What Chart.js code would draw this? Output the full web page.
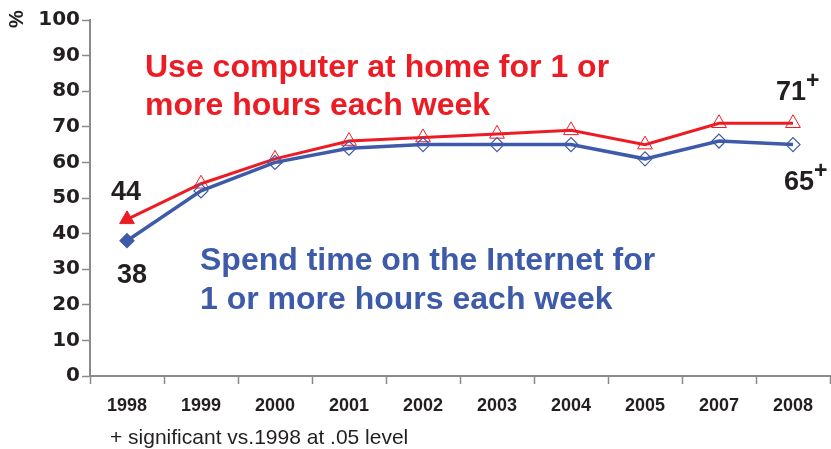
<!DOCTYPE html>
<html>
<head>
<meta charset="utf-8">
<script src="https://cdn.jsdelivr.net/npm/chart.js@4.4.1/dist/chart.umd.min.js"></script>
<style>
html,body{margin:0;padding:0;background:#fff;}
#wrap{width:831px;height:449px;position:relative;}
</style>
</head>
<body>
<div id="wrap"><canvas id="c" width="831" height="449"></canvas></div>
<script>
const years = ['1998','1999','2000','2001','2002','2003','2004','2005','2007','2008'];
const computerHome = [44, 54, 61, 66, 67, 68, 69, 65, 71, 71];
const internetTime = [38, 52, 60, 64, 65, 65, 65, 61, 66, 65];
const yTicks = [0,10,20,30,40,50,60,70,80,90,100];
const redLabel = ['Use computer at home for 1 or', 'more hours each week'];
const blueLabel = ['Spend time on the Internet for', '1 or more hours each week'];
const footnote = '+ significant vs.1998 at .05 level';

const RED = '#ED1C24';
const BLUE = '#3E5BA9';
const INK = '#231F20';

const annot = {
  id: 'annot',
  afterDatasetsDraw(chart) {
    const ctx = chart.ctx;
    const x = chart.scales.x, y = chart.scales.y;
    const ca = chart.chartArea;
    ctx.save();
    // % title
    ctx.save();
    ctx.translate(23, 19);
    ctx.rotate(-Math.PI/2);
    ctx.fillStyle = INK;
    ctx.font = 'bold 20px "Liberation Sans", Arial, sans-serif';
    ctx.textAlign = 'center';
    ctx.textBaseline = 'alphabetic';
    ctx.fillText('%', 0, 0);
    ctx.restore();

    // series labels
    ctx.font = 'bold 32px "Liberation Sans", Arial, sans-serif';
    ctx.textAlign = 'left';
    ctx.textBaseline = 'alphabetic';
    ctx.fillStyle = RED;
    ctx.fillText(redLabel[0], ca.left + 55, ca.top + 57);
    ctx.fillText(redLabel[1], ca.left + 55, ca.top + 95);
    ctx.fillStyle = BLUE;
    ctx.fillText(blueLabel[0], ca.left + 110, ca.top + 250);
    ctx.fillText(blueLabel[1], ca.left + 110, ca.top + 289);

    // value labels
    ctx.fillStyle = INK;
    ctx.font = 'bold 27px "Liberation Sans", Arial, sans-serif';
    ctx.textAlign = 'center';
    const n = years.length - 1;
    const px0 = x.getPixelForValue(0);
    const pxN = x.getPixelForValue(n);
    ctx.fillText(String(computerHome[0]), px0 - 1, y.getPixelForValue(computerHome[0]) - 19);
    ctx.fillText(String(internetTime[0]), px0 + 5, y.getPixelForValue(internetTime[0]) + 42);
    const t71 = String(computerHome[n]);
    const t65 = String(internetTime[n]);
    const b71 = y.getPixelForValue(computerHome[n]) - 23;
    const b65 = y.getPixelForValue(internetTime[n]) + 45;
    const c71 = pxN - 2, c65 = pxN + 6;
    ctx.fillText(t71, c71, b71);
    ctx.fillText(t65, c65, b65);
    const w71 = ctx.measureText(t71).width, w65 = ctx.measureText(t65).width;
    ctx.font = 'bold 23px "Liberation Sans", Arial, sans-serif';
    ctx.textAlign = 'left';
    ctx.fillText('+', c71 + w71/2, b71 - 12);
    ctx.fillText('+', c65 + w65/2, b65 - 12);

    // footnote
    ctx.font = '21px "Liberation Sans", Arial, sans-serif';
    ctx.fillStyle = INK;
    ctx.textAlign = 'left';
    ctx.fillText(footnote, 110, 444);
    ctx.restore();
  }
};

new Chart(document.getElementById('c'), {
  type: 'line',
  data: {
    labels: years,
    datasets: [
      {
        label: 'Use computer at home',
        data: computerHome,
        borderColor: RED,
        borderWidth: 3,
        pointStyle: 'triangle',
        pointRadius: 8.5,
        pointBorderWidth: 1,
        pointBorderColor: RED,
        pointBackgroundColor: computerHome.map((v,i) => i === 0 ? RED : 'rgba(0,0,0,0)'),
        tension: 0,
        order: 2
      },
      {
        label: 'Spend time on the Internet',
        data: internetTime,
        borderColor: BLUE,
        borderWidth: 3.5,
        pointStyle: 'rectRot',
        pointRadius: 7,
        pointBorderWidth: 1.2,
        pointBorderColor: BLUE,
        pointBackgroundColor: internetTime.map((v,i) => i === 0 ? BLUE : 'rgba(0,0,0,0)'),
        tension: 0,
        order: 1
      }
    ]
  },
  options: {
    responsive: false,
    animation: false,
    devicePixelRatio: 1,
    layout: { autoPadding: false, padding: { left: 0, right: 1, top: 20, bottom: 33 } },
    plugins: { legend: { display: false }, tooltip: { enabled: false } },
    scales: {
      x: {
        offset: true,
        grid: { offset: true, drawOnChartArea: false, tickLength: 8, color: '#8a8a8a', tickWidth: 1.5 },
        border: { color: '#8a8a8a', width: 2 },
        ticks: {
          color: INK,
          padding: 11,
          maxRotation: 0,
          autoSkip: false,
          font: { family: '"Liberation Sans", Arial, sans-serif', weight: 'bold', size: 18 }
        },
        afterFit(s) { s.height = 40; s.paddingLeft = 0; s.paddingRight = 0; }
      },
      y: {
        min: 0, max: 100,
        afterBuildTicks(s) { s.ticks = yTicks.map(v => ({ value: v })); },
        grid: { drawOnChartArea: false, tickLength: 8, color: '#8a8a8a', tickWidth: 1.5 },
        border: { color: '#8a8a8a', width: 2 },
        ticks: {
          color: INK,
          padding: 2,
          font: { family: '"DejaVu Sans", sans-serif', weight: 'bold', size: 20 }
        },
        afterFit(s) { s.width = 90; s.paddingTop = 0; s.paddingBottom = 0; }
      }
    }
  },
  plugins: [annot]
});
</script>
</body>
</html>
